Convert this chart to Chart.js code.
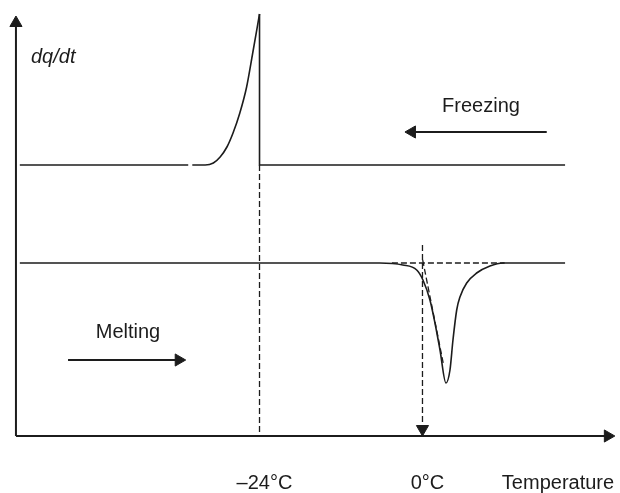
<!DOCTYPE html>
<html>
<head>
<meta charset="utf-8">
<script src="https://cdn.jsdelivr.net/npm/chart.js@4.4.0/dist/chart.umd.min.js"></script>
<style>
  html, body { margin: 0; padding: 0; background: #fff; }
  #wrap { width: 620px; height: 493px; }
</style>
</head>
<body>
<div id="wrap"><canvas id="canvas1"></canvas></div>
<script>
// temperature in degC, signal in arbitrary units (0 = temperature axis)
var freezeBaseLeft = [ {x: -59.3, y: 271}, {x: -34.5, y: 271} ];
var freezeRise = [
  {x: -33.9, y: 271}, {x: -32.0, y: 271}, {x: -30.8, y: 273}, {x: -29.8, y: 279},
  {x: -28.8, y: 289}, {x: -27.9, y: 303}, {x: -26.9, y: 323}, {x: -25.9, y: 349},
  {x: -25.0, y: 383}, {x: -24.0, y: 422}
];
var freezeDrop = [ {x: -24.0, y: 422}, {x: -24.0, y: 271}, {x: 21.0, y: 271} ];

var meltCurve = [
  {x: -59.3, y: 173}, {x: -6.3, y: 173}, {x: -2.9, y: 171}, {x: -0.85, y: 166},
  {x: 0.07, y: 156}, {x: 1.1, y: 136}, {x: 1.84, y: 113}, {x: 2.58, y: 86},
  {x: 3.46, y: 53}, {x: 4.05, y: 66}, {x: 4.49, y: 96}, {x: 5.04, y: 126},
  {x: 5.52, y: 139}, {x: 6.51, y: 153}, {x: 7.98, y: 163}, {x: 9.94, y: 170},
  {x: 11.86, y: 173}, {x: 21.0, y: 173}
];

// construction lines
var freezeMark = [ {x: -24, y: 271}, {x: -24, y: 0} ];
var onsetMark = [ {x: 0, y: 191}, {x: 0, y: 7} ];
var baseExtend = [ {x: -4.5, y: 173}, {x: 12.1, y: 173} ];
var tangent = [ {x: 0.03, y: 176}, {x: 3.05, y: 73} ];

// axes and direction arrows
var yAxisLine = [ {x: -59.87, y: 0}, {x: -59.87, y: 413} ];
var xAxisLine = [ {x: -59.87, y: 0}, {x: 27.3, y: 0} ];
var freezeArrow = [ {x: 18.3, y: 304}, {x: -1.55, y: 304} ];
var meltArrow = [ {x: -52.2, y: 76}, {x: -35.9, y: 76} ];

var tickValues = [-24, 0];
var tickLabels = ['\u201324\u00b0C', '0\u00b0C'];

var ink = '#1c1c1c';
var font = '"Liberation Sans", Arial, sans-serif';

function solid(data, width, tension) {
  return {
    data: data, borderColor: ink, borderWidth: width, pointRadius: 0,
    tension: 0, cubicInterpolationMode: tension ? 'monotone' : 'default',
    fill: false
  };
}
function dashed(data) {
  var ds = solid(data, 1.3, false);
  ds.borderDash = [6, 3];
  return ds;
}
function arrow(ds, rot) {
  ds.pointStyle = 'triangle';
  ds.pointRadius = [0, 7];
  ds.pointRotation = rot;
  ds.pointBackgroundColor = ink;
  ds.pointBorderColor = ink;
  ds.pointBorderWidth = 1;
  return ds;
}

var textPlugin = {
  id: 'texts',
  afterDraw: function(chart) {
    var ctx = chart.ctx;
    var xs = chart.scales.x;
    ctx.save();
    ctx.fillStyle = ink;
    ctx.textBaseline = 'alphabetic';
    ctx.font = 'italic 20px ' + font;
    ctx.textAlign = 'left';
    ctx.fillText('dq/dt', 31, 63);
    ctx.font = '20px ' + font;
    ctx.textAlign = 'center';
    ctx.fillText('Freezing', 481, 112);
    ctx.fillText('Melting', 128, 338);
    for (var i = 0; i < tickValues.length; i++) {
      ctx.fillText(tickLabels[i], xs.getPixelForValue(tickValues[i]) + 5, 489);
    }
    ctx.fillText('Temperature', 558, 489);
    ctx.restore();
  }
};

function $id(id) { return document.getElementById(id); }
var ctx = $id('canvas1').getContext('2d');

new Chart(ctx, {
  type: 'line',
  data: {
    datasets: [
      solid(freezeBaseLeft, 1.6, false),
      solid(freezeRise, 1.6, true),
      solid(freezeDrop, 1.6, false),
      solid(meltCurve, 1.6, true),
      dashed(freezeMark),
      arrow(dashed(onsetMark), 180),
      dashed(baseExtend),
      dashed(tangent),
      arrow(solid(yAxisLine, 2, false), 0),
      arrow(solid(xAxisLine, 2, false), 90),
      arrow(solid(freezeArrow, 2, false), 270),
      arrow(solid(meltArrow, 2, false), 90)
    ]
  },
  options: {
    responsive: true,
    maintainAspectRatio: false,
    animation: false,
    layout: { padding: 0, autoPadding: false },
    plugins: { legend: { display: false }, tooltip: { enabled: false } },
    scales: {
      x: { type: 'linear', min: -62.22, max: 29.09, display: false },
      y: { type: 'linear', min: -57, max: 436, display: false }
    }
  },
  plugins: [textPlugin]
});
</script>
</body>
</html>
